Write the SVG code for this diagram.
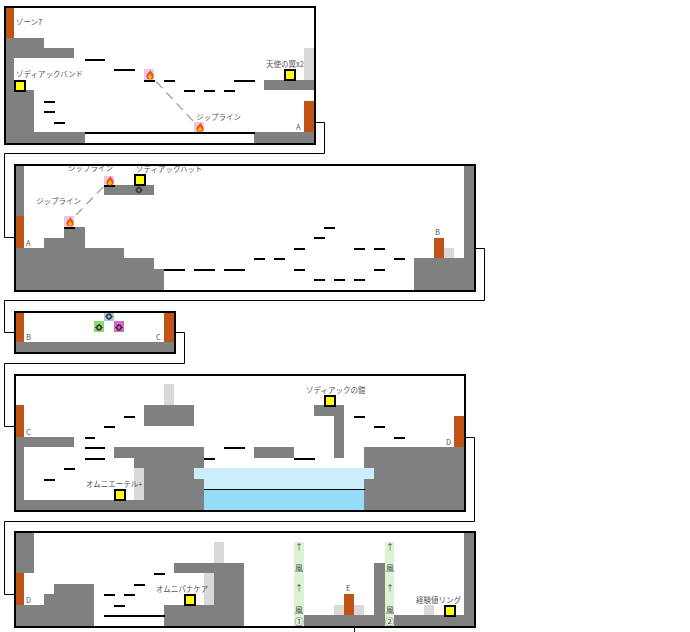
<svg xmlns="http://www.w3.org/2000/svg" width="690" height="632" viewBox="0 0 690 632">
<defs>
<style>
.g{fill:#808080}.o{fill:#c05316}.l{fill:#d9d9d9}.p{fill:#000}
.y{fill:#ffff00;stroke:#000;stroke-width:2}
.f{fill:none;stroke:#000;stroke-width:2}
.c{fill:none;stroke:#000;stroke-width:1}
.z{fill:none;stroke:#6f8fb8;stroke-width:1;stroke-dasharray:9 6}
.t{fill:none;stroke:#c09a70;stroke-width:.8;stroke-dasharray:9 6}
text{font-family:"Noto Sans CJK JP","Liberation Sans",sans-serif;font-size:7.5px;fill:#555}
.s{font-size:8px;text-anchor:middle;fill:#444}
.n{font-size:9px;text-anchor:middle;fill:#444}
</style>
<g id="flame">
<path d="M5 .8C6.200 3 8.600 4.300 8.600 7.300C8.600 9.400 7 10.500 5 10.500C3 10.500 1.400 9.400 1.400 7.300C1.400 5.400 2.800 5 3 3.500C3.900 3.900 4.800 2.800 5 .8Z" fill="#e8590c"/>
<path d="M5 4.800C5.700 6.100 6.800 6.800 6.800 8C6.800 9.100 6 9.900 5 9.900C4 9.900 3.200 9.100 3.200 8C3.200 6.900 4.500 6.300 5 4.800Z" fill="#ffc107"/>
</g>
<g id="gear">
<circle r="2.200" fill="none" stroke="#333" stroke-width="1.500"/>
<path d="M-3.800 0H-2.300M2.300 0H3.800M0 -3.400V-2.300M0 2.300V3.400" stroke="#333" stroke-width="1"/>
</g>
</defs>

<g id="connectors">
<path class="c" d="M314 122.500H324.500V153.500H4.500V237.500H14"/>
<path class="c" d="M474 248.500H484.500V300.500H4.500V332.500H14"/>
<path class="c" d="M174 332.500H184.500V363.500H4.500V426.500H14"/>
<path class="c" d="M464 437.500H474.500V521.500H4.500V594.500H14"/>
<path class="c" d="M354.500 628V632"/>
<path class="t" d="M155.600 81.500L192.600 121"/>
<path class="z" d="M156.400 81.500L193.400 121"/>
<path class="t" d="M75.600 215L102.600 187"/>
<path class="z" d="M76.400 215L103.400 187"/>
</g>

<g id="zone1">
<rect class="o" x="6" y="8" width="8" height="30"/>
<path class="g" d="M6 38H44V48H74V58H14V90H34V132H85V144H6Z"/>
<path class="g" d="M254 132H314V144H254Z"/>
<rect class="g" x="264" y="80" width="50" height="10"/>
<rect class="l" x="304" y="48" width="10" height="32"/>
<rect class="o" x="304" y="101" width="10" height="31"/>
<rect class="p" x="85" y="132" width="170" height="2"/>
<g class="p">
<rect x="85" y="59" width="20" height="2"/><rect x="114" y="69" width="21" height="2"/>
<rect x="144" y="80" width="11" height="2"/><rect x="164" y="80" width="11" height="2"/>
<rect x="184" y="90" width="11" height="2"/><rect x="204" y="90" width="11" height="2"/>
<rect x="224" y="90" width="11" height="2"/><rect x="234" y="80" width="21" height="2"/>
<rect x="44" y="101" width="11" height="2"/><rect x="44" y="111" width="11" height="2"/>
<rect x="54" y="122" width="11" height="2"/>
</g>
<rect x="144" y="69" width="10" height="11" fill="#eec4ec"/><use href="#flame" x="145" y="69"/>
<rect x="194" y="122" width="10" height="10" fill="#eec4ec"/><use href="#flame" x="195" y="121.500"/>
<rect class="y" x="15" y="81" width="10" height="10"/>
<rect class="y" x="285" y="70" width="10" height="10"/>
<text x="16" y="25">ゾーン7</text>
<text x="16" y="77">ゾディアックバンド</text>
<text x="266" y="67">天使の翼x2</text>
<text x="196" y="119.500">ジップライン</text>
<text x="296" y="130">A</text>
<rect class="f" x="5" y="7" width="310" height="137"/>
</g>

<g id="zone2">
<rect class="g" x="16" y="166" width="8" height="50"/>
<rect class="o" x="16" y="216" width="8" height="32"/>
<path class="g" d="M16 248H44V238H64V227H85V248H124V258H154V269H164V290H16Z"/>
<rect class="g" x="104" y="185" width="50" height="10"/>
<path class="g" d="M414 258H464V166H474V290H414Z"/>
<rect class="o" x="434" y="238" width="10" height="20"/>
<rect class="l" x="444" y="248" width="10" height="10"/>
<g class="p">
<rect x="64" y="227" width="11" height="2"/><rect x="104" y="185" width="11" height="2"/>
<rect x="164" y="269" width="21" height="2"/><rect x="194" y="269" width="21" height="2"/><rect x="224" y="269" width="21" height="2"/>
<rect x="254" y="258" width="11" height="2"/><rect x="274" y="258" width="11" height="2"/>
<rect x="294" y="248" width="11" height="2"/><rect x="294" y="269" width="11" height="2"/>
<rect x="314" y="237" width="11" height="2"/><rect x="324" y="227" width="11" height="2"/>
<rect x="314" y="279" width="11" height="2"/><rect x="334" y="279" width="11" height="2"/><rect x="354" y="279" width="11" height="2"/>
<rect x="354" y="248" width="11" height="2"/><rect x="374" y="248" width="11" height="2"/>
<rect x="374" y="269" width="11" height="2"/><rect x="394" y="258" width="11" height="2"/>
</g>
<rect x="64" y="216" width="10" height="11" fill="#eec4ec"/><use href="#flame" x="65" y="216"/>
<rect x="104" y="176" width="10" height="9" fill="#eec4ec"/><use href="#flame" x="105" y="175"/>
<rect class="y" x="135" y="175" width="10" height="10"/>
<use href="#gear" x="139" y="190"/>
<text x="68" y="170.500">ジップライン</text>
<text x="36" y="203.500">ジップライン</text>
<text x="136" y="171.500">ゾディアックハット</text>
<text x="26" y="246">A</text>
<text x="435" y="234.500">B</text>
<rect class="f" x="15" y="165" width="460" height="126"/>
</g>

<g id="zone3">
<rect class="o" x="16" y="313" width="8" height="29"/>
<rect class="o" x="164" y="313" width="10" height="29"/>
<rect class="g" x="16" y="342" width="158" height="10"/>
<rect x="104" y="313" width="10" height="8" fill="#a3c9ea"/>
<rect x="94" y="321" width="10" height="11" fill="#8cd96a"/>
<rect x="114" y="321" width="10" height="11" fill="#d966c8"/>
<use href="#gear" x="109" y="316.500"/><use href="#gear" x="99" y="327.500"/><use href="#gear" x="119" y="327.500"/>
<text x="26" y="340">B</text>
<text x="156" y="340">C</text>
<rect class="f" x="15" y="312" width="160" height="41"/>
</g>

<g id="zone4">
<rect class="o" x="16" y="405" width="8" height="32"/>
<path class="g" d="M16 437H74V447H24V500H134V458H114V447H204V510H16Z"/>
<rect class="l" x="134" y="468" width="10" height="32"/>
<rect class="l" x="164" y="384" width="10" height="21"/>
<rect class="g" x="144" y="405" width="50" height="21"/>
<rect class="g" x="254" y="447" width="40" height="11"/>
<path class="g" d="M314 405H344V458H334V416H314Z"/>
<rect class="g" x="364" y="447" width="100" height="63"/>
<rect x="204" y="479" width="160" height="11" fill="#cbeefc"/>
<rect x="194" y="468" width="180" height="11" fill="#cbeefc"/>
<rect x="204" y="490" width="160" height="20" fill="#94dcf8"/>
<rect class="p" x="204" y="489" width="161" height="1"/>
<rect class="o" x="454" y="416" width="10" height="31"/>
<g class="p">
<rect x="124" y="416" width="11" height="2"/><rect x="104" y="426" width="11" height="2"/>
<rect x="85" y="437" width="10" height="2"/><rect x="85" y="447" width="20" height="2"/>
<rect x="85" y="458" width="20" height="2"/><rect x="64" y="468" width="11" height="2"/>
<rect x="44" y="479" width="11" height="2"/><rect x="204" y="458" width="11" height="2"/>
<rect x="224" y="447" width="21" height="2"/><rect x="294" y="458" width="21" height="2"/>
<rect x="354" y="416" width="11" height="2"/><rect x="374" y="426" width="11" height="2"/>
<rect x="394" y="437" width="11" height="2"/>
</g>
<rect class="y" x="115" y="490" width="10" height="10"/>
<rect class="y" x="325" y="396" width="10" height="10"/>
<text x="86" y="487">オムニエーテル+</text>
<text x="306" y="393">ゾディアックの鎧</text>
<text x="26" y="435">C</text>
<text x="446" y="445">D</text>
<rect class="f" x="15" y="375" width="450" height="136"/>
</g>

<g id="zone5">
<rect class="g" x="16" y="533" width="18" height="40"/>
<rect class="o" x="16" y="573" width="8" height="32"/>
<path class="g" d="M16 605H44V594H54V584H94V626H16Z"/>
<path class="g" d="M164 605H214V573H174V563H244V626H164Z"/>
<rect class="l" x="214" y="542" width="10" height="21"/>
<rect class="l" x="204" y="573" width="10" height="32"/>
<rect class="g" x="304" y="615" width="170" height="11"/>
<rect class="g" x="374" y="563" width="11" height="52"/>
<rect class="g" x="464" y="533" width="10" height="93"/>
<rect x="294" y="542" width="10" height="84" fill="#dcf2d4"/>
<rect x="385" y="542" width="9" height="84" fill="#dcf2d4"/>
<rect class="l" x="334" y="605" width="10" height="10"/>
<rect class="l" x="354" y="605" width="10" height="10"/>
<rect class="o" x="344" y="594" width="10" height="21"/>
<rect class="l" x="424" y="605" width="10" height="10"/>
<g class="p">
<rect x="104" y="594" width="11" height="2"/><rect x="124" y="594" width="11" height="2"/>
<rect x="114" y="605" width="11" height="2"/><rect x="134" y="584" width="11" height="2"/>
<rect x="154" y="573" width="11" height="2"/><rect x="104" y="615" width="61" height="2"/>
</g>
<rect class="y" x="185" y="595" width="10" height="10"/>
<rect class="y" x="445" y="606" width="10" height="10"/>
<text x="156" y="592">オムニパナケア</text>
<text x="416" y="603">経験値リング</text>
<text x="26" y="603">D</text>
<text x="346" y="591">E</text>
<text class="s" x="299" y="550">↑</text><text class="s" x="299" y="571">風</text><text class="s" x="299" y="591">↑</text><text class="s" x="299" y="613">風</text><text class="n" x="299" y="624.500">①</text>
<text class="s" x="390" y="550">↑</text><text class="s" x="390" y="571">風</text><text class="s" x="390" y="591">↑</text><text class="s" x="390" y="613">風</text><text class="n" x="389.500" y="624.500">②</text>
<rect class="f" x="15" y="532" width="460" height="95"/>
</g>
</svg>
